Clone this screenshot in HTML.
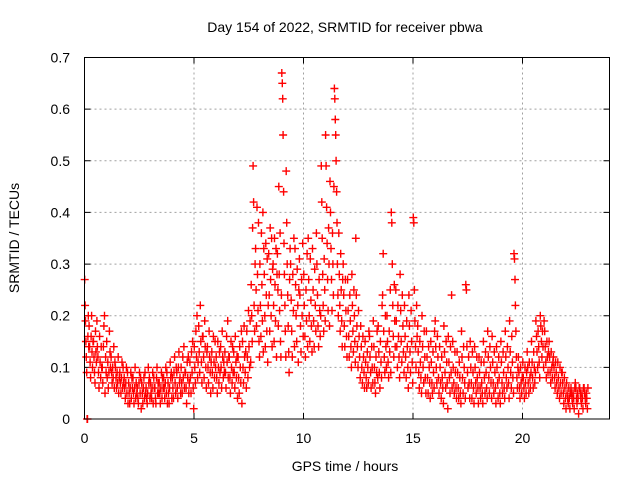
<!DOCTYPE html>
<html><head><meta charset="utf-8"><style>
body{margin:0;background:#fff}
svg{display:block;font-family:"Liberation Sans",sans-serif}
</style></head><body>
<svg id="chart" width="640" height="480" xmlns="http://www.w3.org/2000/svg">
<text x="345" y="32" font-size="14" text-anchor="middle">Day 154 of 2022, SRMTID for receiver pbwa</text>
<text transform="translate(19,238) rotate(-90)" font-size="14" text-anchor="middle">SRMTID / TECUs</text>
<text x="345" y="471" font-size="14" text-anchor="middle">GPS time / hours</text>
<g id="grid"></g>
<g id="ticks"></g>
<g id="pts"></g>
<rect x="84.5" y="57.5" width="525" height="361.5" fill="none" stroke="#000" stroke-width="1"/>
</svg>
<script>
const xTicks=[0,5,10,15,20];
const yTicks=[0,0.1,0.2,0.3,0.4,0.5,0.6,0.7];
const yTickLabels=["0","0.1","0.2","0.3","0.4","0.5","0.6","0.7"];
const binWidth=0.2;
const binStart=0;
const binValues=[
"27 22 19 15 12 9 0 0 16 20 14","18 14 11 8 16 20 13 10 15","15 12 9 7 17 13 11 19 14","12 9 6 16 11 8 14 10","10 7 14 18 20 5 12 9",
"15 8 11 6 9 17 13 10","12 9 7 10 8 14 6 11","10 8 6 9 7 12 5 8","9 7 5 8 11 6 10 7","8 6 4 7 10 5 9 3",
"7 5 3 6 9 4 8 6","8 5 3 6 10 4 7 5","6 4 3 7 9 5 8 2","7 5 3 6 8 4 9 5","6 4 3 5 10 7 8 4",
"7 5 4 6 9 3 8 6","6 4 3 8 10 5 7 5","7 5 3 6 9 4 8 6","8 6 4 7 10 5 9 3","7 5 3 6 11 8 9 4",
"8 6 4 9 12 7 5 10","9 6 4 10 13 7 8 5","10 7 5 12 8 14 6 9","9 6 3 11 8 12 5 7","11 8 5 13 9 15 6 2",
"14 10 7 17 12 20 8 11","18 13 9 22 15 11 7 16","16 12 8 19 14 10 6 13","14 10 7 17 12 9 5 11","13 9 6 16 11 8 15 10",
"12 8 5 15 10 7 13 9","14 10 6 17 12 8 11 9","13 9 6 16 11 19 8 12","12 8 5 15 10 7 14 9","13 9 6 16 11 8 12 4",
"12 8 5 14 10 7 17 3","15 10 7 18 12 9 13 6","17 12 8 21 14 10 19 11","26 20 15 37 49 42 22 17 30","33 25 18 41 28 21 38 15 12",
"30 22 16 36 26 19 40 13 33","28 20 14 34 24 17 31 11 22","32 24 17 37 27 20 35 14 29","30 22 15 35 26 19 33 12 28","32 25 18 45 28 21 36 15 12 24",
"67 65 62 55 44 34 28 22 17 12","48 38 30 24 18 13 9 27 33","30 23 17 12 28 21 35 14","33 26 20 15 29 22 11 25","31 24 18 13 27 20 34 16",
"28 22 16 12 25 19 32 14","35 27 20 15 31 23 18 13","33 25 19 14 29 22 17 36","30 24 18 14 27 21 16 20","49 42 35 28 22 17 31 25 19",
"55 49 41 34 27 21 37 30 18","46 40 33 27 21 36 30 24 45","64 62 58 55 50 44 38 30 24 20","36 28 22 17 32 25 19 14 27","30 24 18 14 27 21 16 12",
"27 21 16 12 24 19 14 10","28 22 17 13 25 20 15 11 35","24 18 14 10 21 16 12 8","18 14 10 7 16 12 9 6","15 11 8 6 13 10 7 17",
"16 12 9 6 14 10 7 19","14 10 7 5 12 9 17 8","18 13 9 6 15 11 8 22","24 32 17 12 9 20 14 10","20 15 11 8 17 13 25 9",
"40 38 30 22 16 12 26 19 14","25 19 14 10 22 16 12 8","28 21 15 11 24 18 13 9","22 16 12 8 19 14 10 6","24 18 13 9 21 15 11 7",
"39 38 25 19 14 10 22 16","18 13 9 6 15 11 8 5","20 14 10 7 17 12 8 5","17 12 8 5 14 10 7 4","15 11 7 5 13 9 6 17",
"19 14 10 7 16 12 8 5","14 10 7 4 12 8 6 3","18 13 9 6 15 11 7 2","16 11 8 5 14 9 24 6","15 10 7 5 13 9 6 4",
"13 9 6 4 11 8 5 3","17 12 8 5 14 10 7 4","26 25 14 9 6 12 7 4","15 10 7 4 13 9 6 3","14 10 7 5 12 8 6 3",
"12 9 6 4 11 7 5 3","15 11 8 5 13 9 6 4","17 12 8 5 14 10 7 4","16 11 7 5 13 9 6 3","14 10 7 4 12 8 5 3",
"15 11 7 5 13 9 6 4","17 12 8 6 14 10 7 4","19 13 9 6 16 11 8 5","32 31 27 22 17 12 8 6 10","12 9 6 4 10 7 5 8",
"11 8 6 4 10 7 5 9","13 10 7 5 11 8 6 9","15 11 8 6 13 10 7 9","19 16 13 10 17 14 11 8","20 18 15 12 17 14 10 19",
"17 14 11 8 15 12 9 13","15 12 9 7 13 10 8 11","12 10 8 6 11 9 7 5","11 8 6 4 10 7 5 9","9 7 5 3 8 6 4 2",
"7 5 4 3 6 4 2 5","6 5 4 3 5 4 2 6","7 6 4 3 5 4 1 6","6 5 4 3 5 4 2 6","6 5 4 3 5 4 2 6"
];
const NS="http://www.w3.org/2000/svg";
const X0=84.5,XS=21.9,XR=609.5,Y0=419,YT=57.5,YMAX=0.7;
function xp(h){return X0+h*XS;}
function yp(v){return Y0-(v/YMAX)*(Y0-YT);}
function mk(t,a){const e=document.createElementNS(NS,t);for(const k in a)e.setAttribute(k,a[k]);return e;}
const grid=document.getElementById('grid'),ticks=document.getElementById('ticks'),pts=document.getElementById('pts');
xTicks.forEach(t=>{const x=xp(t);
 if(t>0){const g=mk('line',{x1:x,x2:x,y1:YT,y2:Y0,stroke:'#a0a0a0','stroke-dasharray':'2,3'});
 
 grid.appendChild(g);}
 const tk=mk('path',{d:`M${x},${Y0}v-6M${x},${YT}v6`,stroke:'#000'});
 
 ticks.appendChild(tk);
 const l=mk('text',{x:x,y:443,'font-size':14,'text-anchor':'middle'});l.textContent=String(t);
 
 ticks.appendChild(l);});
yTicks.forEach((t,i)=>{const y=yp(t);
 if(t>0&&t<YMAX){const g=mk('line',{x1:X0,x2:XR,y1:y,y2:y,stroke:'#a0a0a0','stroke-dasharray':'2,3'});
 
 grid.appendChild(g);}
 const tk=mk('path',{d:`M${X0},${y}h6M${XR},${y}h-6`,stroke:'#000'});
 
 ticks.appendChild(tk);
 const l=mk('text',{x:70,y:y+5,'font-size':14,'text-anchor':'end'});l.textContent=yTickLabels[i];
 
 ticks.appendChild(l);});
let d='';
binValues.forEach((s,b)=>{const vals=s.split(' ').map(Number);
 vals.forEach((v,i)=>{const h=binStart+b*binWidth+(i+0.5)/vals.length*binWidth;
  const x=xp(h),y=yp(v/100);d+=`M${(x-4).toFixed(1)},${y.toFixed(1)}h8M${x.toFixed(1)},${(y-4).toFixed(1)}v8`;});});
const p=mk('path',{d:d,stroke:'#ff0000','stroke-width':1.4,fill:'none'});


pts.appendChild(p);
</script>
</body></html>
